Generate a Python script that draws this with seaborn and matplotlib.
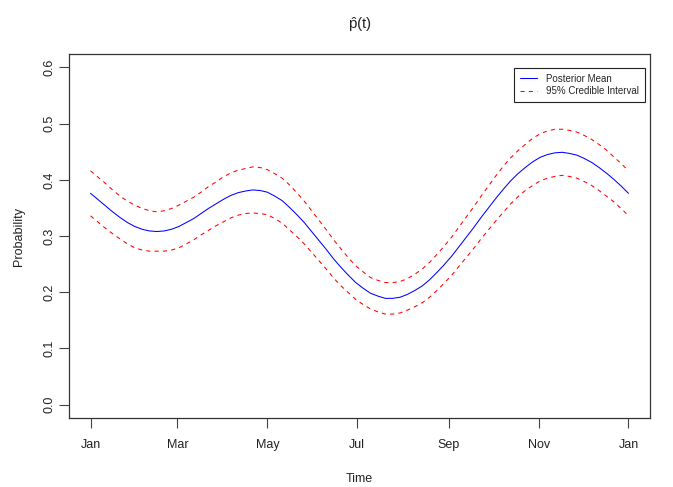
import matplotlib
matplotlib.use("Agg")
import matplotlib.pyplot as plt
import pandas as pd
import seaborn as sns

# Day of year for each estimate
days = [0, 5, 10, 15, 20, 25, 30, 35, 40, 45, 50, 55, 60, 65, 70, 75, 80, 85, 90, 95,
        100, 105, 110, 115, 120, 125, 130, 135, 140, 145, 150, 155, 160, 165, 170, 175,
        180, 185, 190, 195, 200, 205, 210, 215, 220, 225, 230, 235, 240, 245, 250, 255,
        260, 265, 270, 275, 280, 285, 290, 295, 300, 305, 310, 315, 320, 325, 330, 335,
        340, 345, 350, 355, 360, 365]

posterior_mean = [0.376, 0.365, 0.354, 0.343, 0.333, 0.324, 0.317, 0.312, 0.309, 0.308,
                  0.309, 0.312, 0.317, 0.324, 0.331, 0.340, 0.349, 0.357, 0.365, 0.372,
                  0.377, 0.380, 0.382, 0.381, 0.378, 0.371, 0.363, 0.351, 0.338, 0.324,
                  0.308, 0.292, 0.276, 0.259, 0.244, 0.230, 0.217, 0.207, 0.198, 0.193,
                  0.189, 0.189, 0.191, 0.196, 0.203, 0.211, 0.222, 0.235, 0.249, 0.264,
                  0.281, 0.298, 0.315, 0.333, 0.350, 0.367, 0.383, 0.398, 0.411, 0.422,
                  0.432, 0.440, 0.445, 0.448, 0.449, 0.447, 0.444, 0.438, 0.431, 0.422,
                  0.412, 0.401, 0.389, 0.376]

upper_95 = [0.416, 0.405, 0.394, 0.382, 0.371, 0.362, 0.355, 0.349, 0.345, 0.343,
            0.345, 0.349, 0.355, 0.362, 0.369, 0.378, 0.388, 0.396, 0.405, 0.412,
            0.417, 0.420, 0.423, 0.422, 0.418, 0.411, 0.403, 0.391, 0.377, 0.362,
            0.345, 0.328, 0.311, 0.293, 0.277, 0.261, 0.247, 0.236, 0.226, 0.221,
            0.217, 0.217, 0.219, 0.224, 0.232, 0.241, 0.253, 0.267, 0.282, 0.298,
            0.316, 0.334, 0.352, 0.371, 0.389, 0.407, 0.424, 0.439, 0.452, 0.463,
            0.474, 0.482, 0.487, 0.490, 0.490, 0.488, 0.485, 0.479, 0.472, 0.463,
            0.453, 0.441, 0.429, 0.416]

lower_95 = [0.336, 0.325, 0.314, 0.304, 0.295, 0.286, 0.279, 0.275, 0.273, 0.273,
            0.273, 0.275, 0.279, 0.286, 0.293, 0.302, 0.310, 0.318, 0.325, 0.332,
            0.337, 0.340, 0.341, 0.340, 0.338, 0.331, 0.323, 0.311, 0.299, 0.286,
            0.271, 0.256, 0.241, 0.225, 0.211, 0.199, 0.187, 0.178, 0.170, 0.165,
            0.161, 0.161, 0.163, 0.168, 0.174, 0.181, 0.191, 0.203, 0.216, 0.230,
            0.246, 0.262, 0.278, 0.295, 0.311, 0.327, 0.342, 0.357, 0.370, 0.381,
            0.390, 0.398, 0.403, 0.406, 0.408, 0.406, 0.403, 0.397, 0.390, 0.381,
            0.371, 0.361, 0.349, 0.336]

month_ticks = [0, 59, 120, 181, 243, 304, 365]
month_labels = ["Jan", "Mar", "May", "Jul", "Sep", "Nov", "Jan"]
prob_ticks = [0.0, 0.1, 0.2, 0.3, 0.4, 0.5, 0.6]
prob_labels = ["0.0", "0.1", "0.2", "0.3", "0.4", "0.5", "0.6"]

df = pd.DataFrame({"day": days, "mean": posterior_mean,
                   "upper": upper_95, "lower": lower_95})

sns.set_style("white")
plt.rcParams["font.family"] = ["Liberation Sans", "DejaVu Sans"]
plt.rcParams["mathtext.fontset"] = "custom"
plt.rcParams["mathtext.rm"] = "Liberation Sans"
plt.rcParams["mathtext.it"] = "Liberation Sans:italic"

fig = plt.figure(figsize=(6.73, 4.87), dpi=100)
ax = fig.add_axes([69 / 673, 69 / 487, 581 / 673, 364 / 487])

# Posterior mean and credible band
sns.lineplot(data=df, x="day", y="mean", ax=ax, color="#0000FF", linewidth=0.75,
             label="Posterior Mean")
sns.lineplot(data=df, x="day", y="upper", ax=ax, color="#FF0000", linewidth=0.75,
             linestyle=(0, (4, 4)), label="95% Credible Interval")
sns.lineplot(data=df, x="day", y="lower", ax=ax, color="#FF0000", linewidth=0.75,
             linestyle=(0, (4, 4)))

ax.set_xlim(-14.6, 379.6)
ax.set_ylim(-0.024, 0.624)

ax.set_xticks(month_ticks)
ax.set_xticklabels(month_labels, fontsize=9, color="#222222")
ax.set_yticks(prob_ticks)
ax.set_yticklabels(prob_labels, fontsize=9, color="#222222", rotation=90, va="center")
ax.tick_params(axis="both", bottom=True, left=True, direction="out", length=7,
               width=0.8, color="#444444")
ax.tick_params(axis="x", pad=8)
ax.tick_params(axis="y", pad=3)

for side in ["left", "right", "top", "bottom"]:
    ax.spines[side].set_visible(True)
    ax.spines[side].set_color("#333333")
    ax.spines[side].set_linewidth(0.9)

ax.set_xlabel("Time", fontsize=9, color="#222222", labelpad=16)
ax.set_ylabel("Probability", fontsize=9, color="#222222", labelpad=13)
ax.set_title(r"$\hat{\mathrm{p}}(\mathrm{t})$", fontsize=11, pad=18)

ax.legend(loc="upper right", bbox_to_anchor=(0.991, 0.9615), borderaxespad=0,
          fontsize=7, frameon=True, fancybox=False, edgecolor="#222222", framealpha=1,
          handlelength=1.8, handletextpad=0.9, labelspacing=0.25, borderpad=0.6)
ax.get_legend().get_frame().set_linewidth(0.8)

plt.savefig("out.png", dpi=100)
